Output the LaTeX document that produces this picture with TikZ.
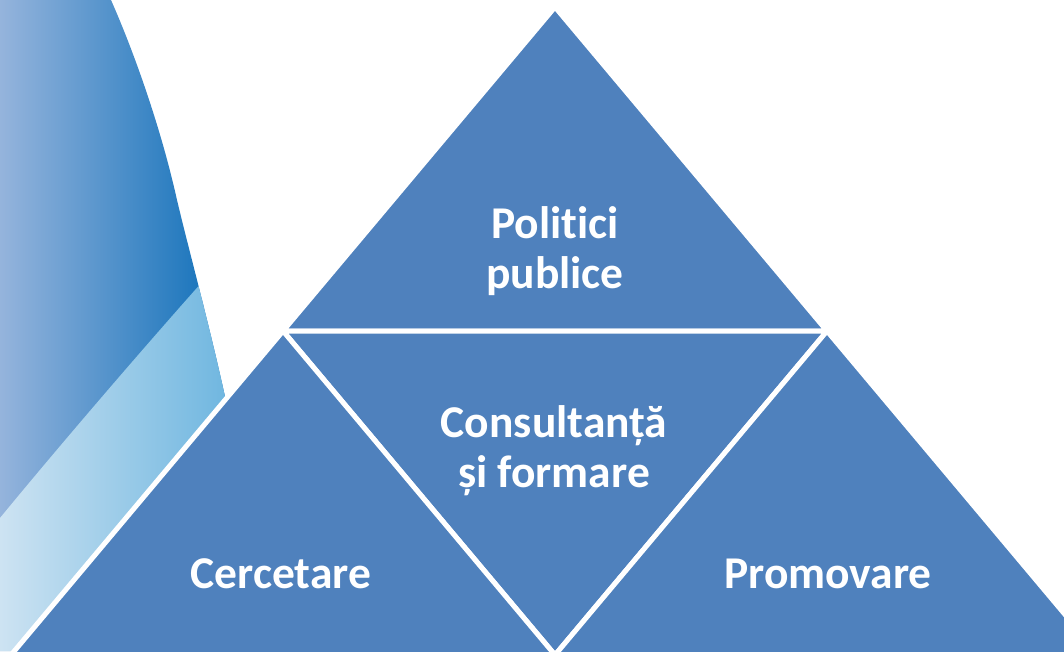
\documentclass[tikz,border=0pt]{standalone}
\usepackage{fontspec}
\setmainfont{Carlito}[Ligatures=NoCommon]
\definecolor{pyrblue}{HTML}{4F81BD}
\definecolor{darkleft}{HTML}{95B4DC}
\definecolor{darkright}{HTML}{0A6DB8}
\definecolor{lightleft}{HTML}{CDE3F2}
\definecolor{lightright}{HTML}{62B0DD}

\begin{document}
\begin{tikzpicture}[x=1pt, y=-1pt,
	part/.style={fill=pyrblue, draw=white, line width=5pt, line join=miter},
	lbl/.style={text=white, font=\fontsize{45.5}{50}\selectfont\bfseries, align=center, inner sep=0pt}]
	\useasboundingbox (0,0) rectangle (1064,651);

	% background swoosh on the left
	\begin{scope}
		\clip (0,0) -- (111,0) .. controls (134,52) and (161,128) .. (177,200)
			.. controls (190,255) and (215,345) .. (232,430) -- (232,651) -- (0,651) -- cycle;
		\shade[left color=darkleft, right color=darkright] (0,0) rectangle (232,651);
		\shade[left color=lightleft, right color=lightright] (0,518)
			.. controls (60,445) and (150,340) .. (220,262) -- (260,262) -- (260,651) -- (0,651) -- cycle;
	\end{scope}

	% pyramid
	\coordinate (top) at (555,7);
	\coordinate (bl) at (11,655);
	\coordinate (br) at (1099,655);
	\coordinate (ml) at (283,331);
	\coordinate (mr) at (827,331);
	\coordinate (mb) at (555,655);

	\draw[part] (top) -- (ml) -- (mr) -- cycle;
	\draw[part] (ml) -- (mb) -- (mr) -- cycle;
	\draw[part] (ml) -- (bl) -- (mb) -- cycle;
	\draw[part] (mr) -- (mb) -- (br) -- cycle;

	\node[lbl] (politici) at (555,251) {Politici\\publice};
	\node[lbl] (consultanta) at (554,451) {Consultanță\\și formare};
	\node[lbl, anchor=base] (cercetare) at (281,588) {Cercetare};
	\node[lbl, anchor=base] (promovare) at (828,588) {Promovare};
\end{tikzpicture}
\end{document}
